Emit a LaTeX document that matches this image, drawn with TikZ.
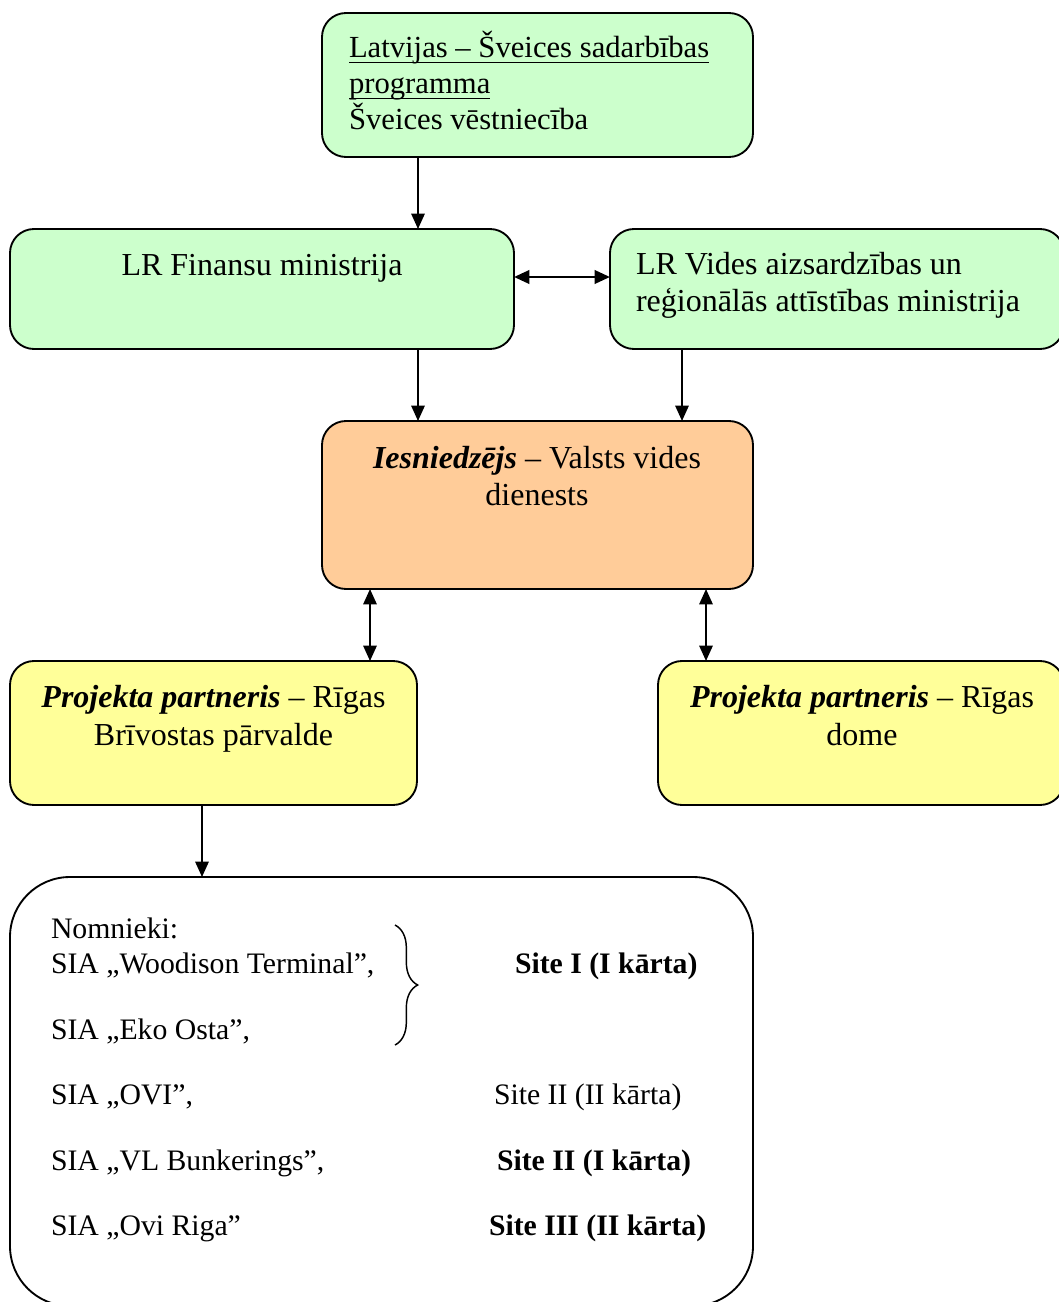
\documentclass[tikz,border=0pt]{standalone}
\usepackage{fontspec}
\setmainfont{Liberation Serif}
\usetikzlibrary{arrows.meta,decorations.pathreplacing}
\definecolor{boxgreen}{HTML}{CCFFCC}
\definecolor{boxorange}{HTML}{FFCC99}
\definecolor{boxyellow}{HTML}{FFFF99}
\begin{document}
\begin{tikzpicture}[x=0.75pt,y=-0.75pt,
  box/.style={draw, line width=1.4pt, rounded corners=18pt, inner sep=0pt, outer sep=0pt, anchor=north west},
  txt/.style={inner sep=0pt, outer sep=0pt, font=\fontsize{24}{28}\selectfont},
  toptxt/.style={txt, font=\fontsize{23}{28}\selectfont},
  bottxt/.style={txt, font=\fontsize{22.3}{28}\selectfont},
  tip/.tip={Triangle[length=11.5pt,width=10pt]},
  arr/.style={-tip, line width=1.4pt},
  darr/.style={tip-tip, line width=1.4pt}]
\useasboundingbox (0,0) rectangle (1059,1302);
\clip (0,0) rectangle (1059,1302);
% boxes
\node[box, fill=boxgreen, minimum width=323.25pt, minimum height=108pt] (top) at (322,13) {};
\node[box, fill=boxgreen, minimum width=378pt, minimum height=90pt] (fm) at (10,229) {};
\node[box, fill=boxgreen, minimum width=340.5pt, minimum height=90pt] (varam) at (610,229) {};
\node[box, fill=boxorange, minimum width=323.25pt, minimum height=126pt] (vvd) at (322,421) {};
\node[box, fill=boxyellow, minimum width=305.25pt, minimum height=108pt] (rbp) at (10,661) {};
\node[box, fill=boxyellow, minimum width=304.5pt, minimum height=108pt] (rd) at (658,661) {};
\node[box, fill=white, rounded corners=45pt, minimum width=557.25pt, minimum height=321.75pt] (bot) at (10,877) {};
% texts: top
\node[toptxt, anchor=base west] (t1a) at (349,58) {Latvijas – Šveices sadarbības};
\node[toptxt, anchor=base west] (t1b) at (349,94) {programma};
\node[toptxt, anchor=base west] (t1c) at (349,130) {Šveices vēstniecība};
\draw[line width=0.9pt] ([yshift=-3.2pt]t1a.base west) -- ([yshift=-3.2pt]t1a.base east);
\draw[line width=0.9pt] ([yshift=-3.2pt]t1b.base west) -- ([yshift=-3.2pt]t1b.base east);
% fm / varam
\node[txt, anchor=base] (t2) at (262,275) {LR Finansu ministrija};
\node[txt, anchor=base west] (t3a) at (636,274) {LR Vides aizsardzības un};
\node[txt, anchor=base west] (t3b) at (636,311) {reģionālās attīstības ministrija};
% vvd
\node[txt, anchor=base] (t4a) at (537,468) {\textbf{\textit{Iesniedzējs}} – Valsts vides};
\node[txt, anchor=base] (t4b) at (537,505) {dienests};
% partners
\node[txt, anchor=base] (t5a) at (213.5,707) {\textbf{\textit{Projekta partneris}} – Rīgas};
\node[txt, anchor=base] (t5b) at (213.5,745) {Brīvostas pārvalde};
\node[txt, anchor=base] (t6a) at (862,707) {\textbf{\textit{Projekta partneris}} – Rīgas};
\node[txt, anchor=base] (t6b) at (862,745) {dome};
% bottom list
\node[bottxt, anchor=base west] (n0) at (51,938) {Nomnieki:};
\node[bottxt, anchor=base west] (n1) at (51,973) {SIA „Woodison Terminal”,};
\node[bottxt, anchor=base west] (n2) at (51,1039) {SIA „Eko Osta”,};
\node[bottxt, anchor=base west] (n3) at (51,1104) {SIA „OVI”,};
\node[bottxt, anchor=base west] (n4) at (51,1170) {SIA „VL Bunkerings”,};
\node[bottxt, anchor=base west] (n5) at (51,1235) {SIA „Ovi Riga”};
\node[bottxt, anchor=base west] (s1) at (515,973) {\textbf{Site I (I kārta)}};
\node[bottxt, anchor=base west] (s2) at (494,1104) {Site II (II kārta)};
\node[bottxt, anchor=base west] (s3) at (497,1170) {\textbf{Site II (I kārta)}};
\node[bottxt, anchor=base west] (s4) at (489,1235) {\textbf{Site III (II kārta)}};
\draw[line width=1.1pt, decorate, decoration={brace, amplitude=17pt}] (395,925) -- (395,1045);
% connectors
\coordinate (xa) at (418,0);
\coordinate (xb) at (682,0);
\coordinate (xc) at (370,0);
\coordinate (xd) at (706,0);
\coordinate (xe) at (202,0);
\coordinate (ya) at (0,277);
\draw[arr] (top.south -| xa) -- (fm.north -| xa);
\draw[darr, line width=2pt] (fm.east |- ya) -- (varam.west |- ya);
\draw[arr] (fm.south -| xa) -- (vvd.north -| xa);
\draw[arr] (varam.south -| xb) -- (vvd.north -| xb);
\draw[darr] (vvd.south -| xc) -- (rbp.north -| xc);
\draw[darr] (vvd.south -| xd) -- (rd.north -| xd);
\draw[arr] (rbp.south -| xe) -- (bot.north -| xe);
\end{tikzpicture}
\end{document}
